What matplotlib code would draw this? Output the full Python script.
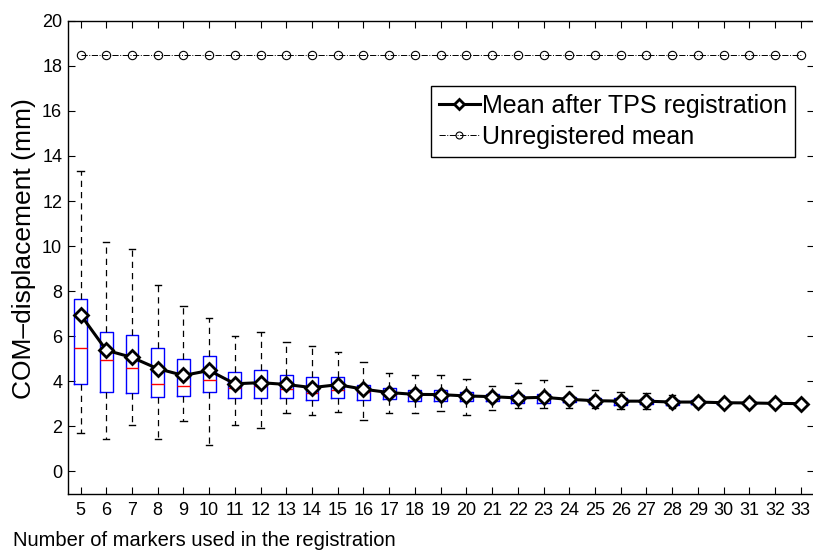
import matplotlib
matplotlib.use("Agg")
import matplotlib.pyplot as plt
import numpy as np

plt.rcParams['font.family'] = ['Liberation Sans', 'DejaVu Sans']

n_markers = list(range(5, 34))
mean_tps = [6.96, 5.38, 5.06, 4.56, 4.26, 4.48, 3.89, 3.94, 3.86, 3.72, 3.85, 3.65, 3.50, 3.42, 3.41,
            3.35, 3.32, 3.26, 3.29, 3.20, 3.14, 3.12, 3.12, 3.08, 3.08, 3.05, 3.04, 3.02, 3.01]
q3 = [7.67, 6.18, 6.04, 5.47, 4.98, 5.12, 4.41, 4.50, 4.26, 4.19, 4.20, 3.83, 3.70, 3.60, 3.63,
      3.54, 3.45, 3.39, 3.45, 3.32, 3.27, 3.24, 3.23, 3.19, 3.19, 3.08, 3.07, 3.05, 3.04]
q1 = [3.88, 3.52, 3.48, 3.32, 3.33, 3.51, 3.24, 3.27, 3.24, 3.17, 3.26, 3.17, 3.20, 3.12, 3.14,
      3.12, 3.11, 3.04, 3.04, 3.07, 2.98, 2.96, 2.98, 2.96, 2.98, 3.01, 3.00, 2.99, 2.98]
medians = [5.46, 4.96, 4.60, 3.88, 3.80, 4.07, 3.70, 3.77, 3.65, 3.48, 3.61, 3.54, 3.39, 3.36, 3.36,
           3.35, 3.30, 3.21, 3.28, 3.20, 3.10, 3.08, 3.10, 3.06, 3.07, 3.04, 3.03, 3.02, 3.01]
whisker_hi = [13.35, 10.2, 9.87, 8.26, 7.35, 6.81, 5.99, 6.21, 5.75, 5.57, 5.32, 4.85, 4.36, 4.30, 4.27,
              4.10, 3.80, 3.94, 4.04, 3.77, 3.61, 3.52, 3.50, 3.38, 3.30, 3.10, 3.09, 3.07, 3.05]
whisker_lo = [1.71, 1.46, 2.08, 1.42, 2.24, 1.16, 2.08, 1.95, 2.58, 2.52, 2.65, 2.28, 2.61, 2.61, 2.68,
              2.52, 2.74, 2.83, 2.83, 2.83, 2.80, 2.79, 2.79, 2.80, 2.85, 2.99, 2.98, 2.97, 2.96]
unregistered_mean = [18.5] * len(n_markers)

y_ticks = list(range(0, 21, 2))

fig = plt.figure(figsize=(8.13, 5.52), dpi=100)
ax = fig.add_axes([67.7 / 813, 1 - 494 / 552, (813.6 - 67.7) / 813, (494 - 20.7) / 552])

stats = []
for i, x in enumerate(n_markers):
    stats.append(dict(med=medians[i], q1=q1[i], q3=q3[i], whislo=whisker_lo[i],
                      whishi=whisker_hi[i], fliers=[], label=str(x)))

ax.bxp(stats, positions=n_markers, widths=0.5, capwidths=0.25, showfliers=False,
       manage_ticks=False,
       boxprops=dict(color='#0000ff', linewidth=1.0),
       medianprops=dict(color='#ff0000', linewidth=1.0),
       whiskerprops=dict(color='black', linestyle=(0, (5, 4)), linewidth=0.9),
       capprops=dict(color='black', linewidth=1.0))

ax.plot(n_markers, mean_tps, color='black', linewidth=2.2, marker='D', markersize=7,
        markerfacecolor='white', markeredgecolor='black', markeredgewidth=2,
        label='Mean after TPS registration', zorder=5)
ax.plot(n_markers, unregistered_mean, color='black', linewidth=0.7, linestyle='-.',
        marker='o', markersize=6, markerfacecolor='none', markeredgecolor='black',
        markeredgewidth=0.8, label='Unregistered mean', zorder=4)

ax.set_xlim(4.5, 33.5)
ax.set_ylim(-1, 20)
ax.set_xticks(n_markers)
ax.set_xticklabels([str(v) for v in n_markers])
ax.set_yticks(y_ticks)
ax.tick_params(direction='in', length=5, width=0.8, top=True, right=True, labelsize=13,
               pad=6)
ax.tick_params(axis='y', pad=4)
for s in ax.spines.values():
    s.set_linewidth(1.0)

leg = ax.legend(loc='upper right', bbox_to_anchor=(0.975, 0.862), fontsize=18,
                frameon=True, fancybox=False, edgecolor='black', framealpha=1,
                handlelength=1.65, handletextpad=0.1, borderpad=0.3, labelspacing=0.3,
                borderaxespad=0)
leg.get_frame().set_linewidth(1.0)
for h in leg.legend_handles:
    h.set_markersize(5)

fig.text(13 / 813, 1 - 546 / 552, 'Number of markers used in the registration',
         fontsize=14.5, ha='left', va='baseline')
fig.text(24 / 813, 1 - 249 / 552, 'COM–displacement (mm)', fontsize=19, rotation=90,
         ha='center', va='center')

fig.savefig('out.png', dpi=100)
